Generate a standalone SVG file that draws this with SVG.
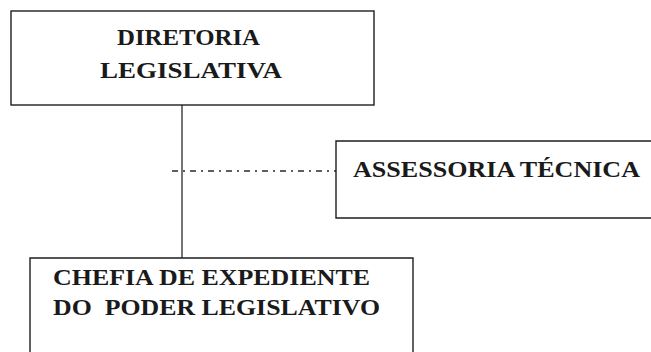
<svg xmlns="http://www.w3.org/2000/svg" width="651" height="352" viewBox="0 0 651 352">
<style>
.box{fill:none;stroke:#1e1e1e;stroke-width:1.4}
.t{font-family:"Liberation Serif","Times New Roman",serif;font-weight:bold;font-size:24px;fill:#1a1a1a}
.ln{fill:none;stroke:#2a2a2a;stroke-width:1.3}
</style>
<rect width="651" height="352" fill="#ffffff"/>
<g id="connectors">
<line class="ln" x1="182" y1="105" x2="182" y2="258"/>
<line class="ln" x1="172" y1="171" x2="336" y2="171" stroke-dasharray="6 5 2 5"/>
</g>
<g id="diretoria">
<rect class="box" x="11" y="11" width="363" height="94"/>
<text class="t" x="117" y="45" textLength="143" lengthAdjust="spacingAndGlyphs">DIRETORIA</text>
<text class="t" x="100" y="78" textLength="182" lengthAdjust="spacingAndGlyphs">LEGISLATIVA</text>
</g>
<g id="assessoria">
<path class="box" d="M660 141 H336 V218 H660"/>
<text class="t" x="353" y="177" textLength="287" lengthAdjust="spacingAndGlyphs">ASSESSORIA TÉCNICA</text>
</g>
<g id="chefia">
<path class="box" d="M30 360 V258 H413 V360"/>
<text class="t" x="53" y="285" textLength="317" lengthAdjust="spacingAndGlyphs">CHEFIA DE EXPEDIENTE</text>
<text class="t" x="53" y="315" textLength="327" lengthAdjust="spacingAndGlyphs" xml:space="preserve">DO  PODER LEGISLATIVO</text>
</g>
</svg>
